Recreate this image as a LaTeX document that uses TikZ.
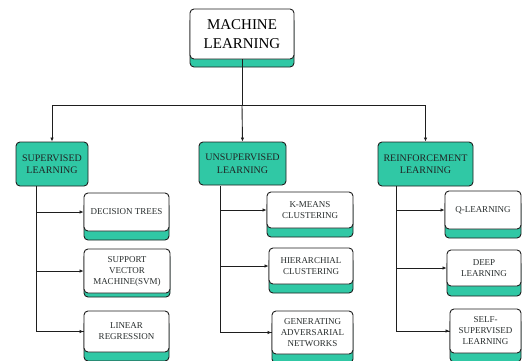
\documentclass[tikz,border=0pt]{standalone}
\usepackage{fontspec}
\setmainfont{Liberation Serif}
\usetikzlibrary{arrows.meta,shadows}
\definecolor{mlteal}{RGB}{48,200,165}
\definecolor{mlline}{RGB}{30,30,30}
\definecolor{mltext}{RGB}{40,45,45}

\begin{document}
\begin{tikzpicture}[x=1pt,y=-1pt,
    line width=0.9pt, draw=mlline,
    card/.style={draw=mlline, fill=white, rounded corners=4pt, align=center,
        inner sep=1pt, text=mltext, font=\fontsize{9}{11}\selectfont,
        general shadow={fill=mlteal, draw=mlline, line width=0.9pt, shadow xshift=0pt, shadow yshift=-#1}},
    card/.default=9pt,
    head/.style={draw=mlline, fill=mlteal, rounded corners=4pt, align=center,
        inner sep=1pt, text=mltext!80!black, font=\fontsize{10}{12.5}\selectfont},
    link/.style={-{Latex[length=4pt,width=3.5pt]}}]
    \useasboundingbox (0,0) rectangle (523,360);
    \begin{scope}
    \clip (0,0) rectangle (523,360);
    \node[card=8pt, minimum width=104pt, minimum height=50pt, font=\fontsize{15}{19}\selectfont, text=black] (ml) at (242,34) {MACHINE\\LEARNING};
    \node[head, minimum width=72pt, minimum height=44pt] (sup) at (52,164) {SUPERVISED\\LEARNING};
    \node[head, minimum width=87pt, minimum height=43pt] (unsup) at (242.5,163.5) {UNSUPERVISED\\LEARNING};
    \node[head, minimum width=95pt, minimum height=44pt] (rl) at (425.5,164) {REINFORCEMENT\\LEARNING};
    \node[card, minimum width=85pt, minimum height=38pt] (dt) at (126.5,212) {DECISION TREES};
    \node[card=4pt, minimum width=86pt, minimum height=44pt] (svm) at (127,271) {SUPPORT\\VECTOR\\MACHINE(SVM)};
    \node[card, minimum width=85pt, minimum height=41pt] (lin) at (126.5,331.5) {LINEAR\\REGRESSION};
    \node[card, minimum width=86pt, minimum height=36pt] (km) at (310,210) {K-MEANS\\CLUSTERING};
    \node[card, minimum width=84pt, minimum height=36pt] (hc) at (311,266) {HIERARCHIAL\\CLUSTERING};
    \node[card, minimum width=81pt, minimum height=43pt] (gan) at (312.5,332.5) {GENERATING\\ADVERSARIAL\\NETWORKS};
    \node[card, minimum width=76pt, minimum height=38pt] (ql) at (483,210) {Q-LEARNING};
    \node[card=10pt, minimum width=74pt, minimum height=36pt] (dl) at (484,268) {DEEP\\LEARNING};
    \node[card, minimum width=71pt, minimum height=44pt] (ssl) at (485.5,331) {SELF-\\SUPERVISED\\LEARNING};
    \coordinate (fork) at (242,105);
    \coordinate (supT) at (36,186);
    \coordinate (unsupT) at (220,186);
    \coordinate (rlT) at (396,186);
    \draw (ml.south) -- (fork);
    \draw[link] (fork) -| (sup.north);
    \draw[link] (fork) -- (unsup.north);
    \draw[link] (fork) -| (rl.north);
    \draw (supT) |- (lin.west);
    \draw[link] (supT |- dt.west) -- (dt.west);
    \draw[link] (supT |- svm.west) -- (svm.west);
    \draw[link] (supT |- lin.west) -- (lin.west);
    \draw (unsupT) |- (gan.west);
    \draw[link] (unsupT |- km.west) -- (km.west);
    \draw[link] (unsupT |- hc.west) -- (hc.west);
    \draw[link] (unsupT |- gan.west) -- (gan.west);
    \draw (rlT) |- (ssl.west);
    \draw[link] (rlT |- ql.west) -- (ql.west);
    \draw[link] (rlT |- dl.west) -- (dl.west);
    \draw[link] (rlT |- ssl.west) -- (ssl.west);
    \end{scope}
\end{tikzpicture}
\end{document}
